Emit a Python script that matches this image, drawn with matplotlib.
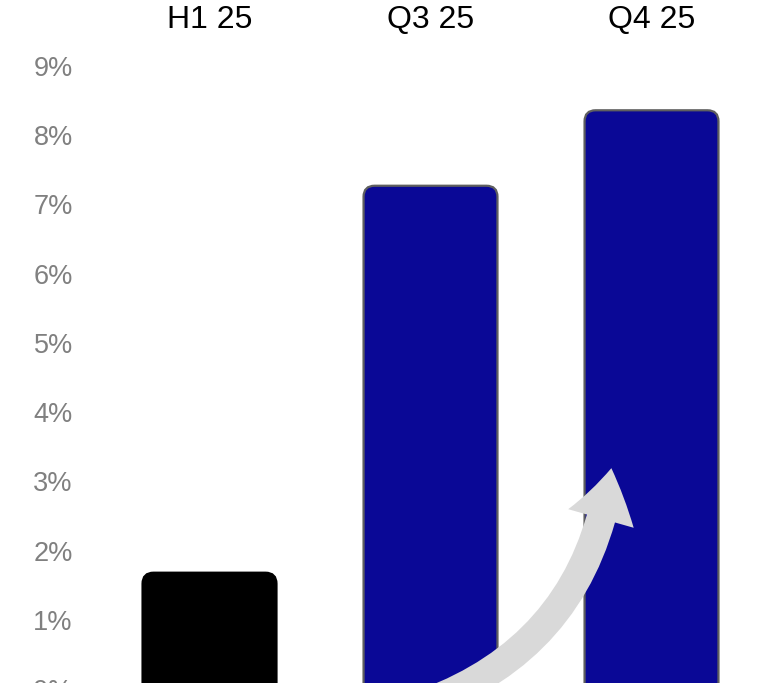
import matplotlib.pyplot as plt
from matplotlib.patches import FancyBboxPatch, FancyArrowPatch
from matplotlib.ticker import PercentFormatter

periods = ['H1 25', 'Q3 25', 'Q4 25']
values = [1.68, 7.27, 8.36]
fills = ['#000000', '#0a0896', '#0a0896']
edges = ['#000000', '#5f5f5f', '#5f5f5f']
y_ticks = list(range(0, 10))

plt.rcParams['font.family'] = ['Liberation Sans', 'DejaVu Sans']

fig = plt.figure(figsize=(7.73, 6.83), dpi=100)
ax = fig.add_axes([0.0995, -0.0088, 0.8577, 0.9122])

x = range(len(periods))
bars = ax.bar(x, values, width=0.606, color=fills)
ax.set_xlim(-0.6, 2.4)
ax.set_ylim(0, 9)

# swap the square bars for rounded ones; the bottom corners sit below zero and get clipped
px_x = 221.0
px_y = 69.2
for rect, fc, ec in zip(bars, fills, edges):
    rect.set_visible(False)
    rb = FancyBboxPatch((rect.get_x(), rect.get_y() - 0.3), rect.get_width(), rect.get_height() + 0.3,
                        boxstyle='round,pad=0,rounding_size=0.05',
                        mutation_aspect=px_x / px_y,
                        facecolor=fc, edgecolor=ec, linewidth=1.6, zorder=2)
    ax.add_patch(rb)

# curved growth arrow
arrow = FancyArrowPatch((0.89, -0.3), (1.82, 3.23),
                        connectionstyle='arc3,rad=0.32',
                        arrowstyle='simple,head_width=49,head_length=37,tail_width=21',
                        mutation_scale=1, color='#d9d9d9', lw=0, zorder=3,
                        clip_on=False)
ax.add_patch(arrow)

ax.set_yticks(y_ticks)
ax.yaxis.set_major_formatter(PercentFormatter(decimals=0))
ax.set_xticks(list(x))
ax.set_xticklabels(periods)
ax.xaxis.tick_top()
ax.tick_params(axis='x', length=0, pad=22, labelsize=23, labelcolor='black')
ax.tick_params(axis='y', length=0, pad=3, labelsize=19.5, labelcolor='#808080')
for s in ax.spines.values():
    s.set_visible(False)

fig.savefig('out.png', dpi=100)
